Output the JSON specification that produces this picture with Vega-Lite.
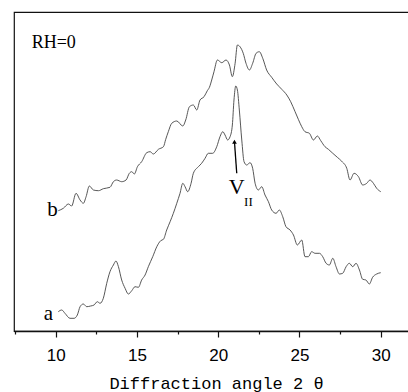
{
  "$schema": "https://vega.github.io/schema/vega-lite/v6.json",
  "width": 395,
  "height": 319,
  "autosize": {"type": "none"},
  "padding": {"left": 14, "top": 12, "right": 0, "bottom": 61},
  "background": "white",
  "config": {
    "view": {"stroke": "#111", "strokeWidth": 1.2},
    "axis": {"domainColor": "#111", "tickColor": "#111", "labelColor": "#000", "titleColor": "#000"}
  },
  "datasets": {
    "curves": [
      {"s":"b","x":10.16,"y":120.3},{"s":"b","x":10.47,"y":122.7},{"s":"b","x":10.78,"y":127},{"s":"b","x":10.98,"y":125},{"s":"b","x":11.25,"y":137.7},{"s":"b","x":11.5,"y":131},{"s":"b","x":11.7,"y":127.7},{"s":"b","x":11.87,"y":134.3},{"s":"b","x":12.07,"y":145},{"s":"b","x":12.32,"y":141},{"s":"b","x":12.63,"y":140.3},{"s":"b","x":12.93,"y":142.3},{"s":"b","x":13.34,"y":143.7},{"s":"b","x":13.55,"y":149.3},{"s":"b","x":13.75,"y":151},{"s":"b","x":14.06,"y":149.3},{"s":"b","x":14.33,"y":151},{"s":"b","x":14.53,"y":157.7},{"s":"b","x":14.68,"y":159.3},{"s":"b","x":14.84,"y":157},{"s":"b","x":15.03,"y":164.3},{"s":"b","x":15.29,"y":169.3},{"s":"b","x":15.6,"y":178.3},{"s":"b","x":15.81,"y":179.3},{"s":"b","x":16.01,"y":177},{"s":"b","x":16.32,"y":181.7},{"s":"b","x":16.63,"y":184.3},{"s":"b","x":16.77,"y":191.7},{"s":"b","x":16.93,"y":199.3},{"s":"b","x":17.14,"y":207.7},{"s":"b","x":17.45,"y":210},{"s":"b","x":17.82,"y":205},{"s":"b","x":18.0,"y":211},{"s":"b","x":18.23,"y":224.3},{"s":"b","x":18.47,"y":226},{"s":"b","x":18.68,"y":221},{"s":"b","x":18.88,"y":231},{"s":"b","x":19.13,"y":234.3},{"s":"b","x":19.33,"y":240.3},{"s":"b","x":19.46,"y":243.7},{"s":"b","x":19.6,"y":251},{"s":"b","x":19.74,"y":259.3},{"s":"b","x":19.95,"y":271},{"s":"b","x":20.22,"y":268.3},{"s":"b","x":20.48,"y":271},{"s":"b","x":20.69,"y":266},{"s":"b","x":20.87,"y":254.3},{"s":"b","x":21.04,"y":267.7},{"s":"b","x":21.18,"y":286},{"s":"b","x":21.34,"y":284.3},{"s":"b","x":21.54,"y":277.7},{"s":"b","x":21.71,"y":267.7},{"s":"b","x":21.92,"y":261},{"s":"b","x":22.12,"y":267.7},{"s":"b","x":22.33,"y":277.7},{"s":"b","x":22.53,"y":279.3},{"s":"b","x":22.74,"y":272.7},{"s":"b","x":22.98,"y":261},{"s":"b","x":23.29,"y":253.7},{"s":"b","x":23.6,"y":247},{"s":"b","x":23.91,"y":241.7},{"s":"b","x":24.22,"y":236},{"s":"b","x":24.46,"y":229.3},{"s":"b","x":24.73,"y":219.3},{"s":"b","x":24.93,"y":211.7},{"s":"b","x":25.14,"y":204.3},{"s":"b","x":25.34,"y":199.3},{"s":"b","x":25.61,"y":197.7},{"s":"b","x":25.86,"y":191},{"s":"b","x":26.1,"y":195},{"s":"b","x":26.31,"y":190.3},{"s":"b","x":26.57,"y":184.3},{"s":"b","x":26.78,"y":181.7},{"s":"b","x":27.05,"y":177.7},{"s":"b","x":27.33,"y":173.7},{"s":"b","x":27.6,"y":169.7},{"s":"b","x":27.91,"y":162.7},{"s":"b","x":28.11,"y":151},{"s":"b","x":28.36,"y":157.7},{"s":"b","x":28.63,"y":154.3},{"s":"b","x":28.89,"y":146},{"s":"b","x":29.14,"y":147.7},{"s":"b","x":29.34,"y":151},{"s":"b","x":29.55,"y":147.7},{"s":"b","x":29.75,"y":142.7},{"s":"b","x":30.0,"y":139.3},
      {"s":"a","x":10.16,"y":19.3},{"s":"a","x":10.37,"y":21},{"s":"a","x":10.57,"y":17.7},{"s":"a","x":10.88,"y":12.7},{"s":"a","x":11.13,"y":12.7},{"s":"a","x":11.33,"y":16},{"s":"a","x":11.5,"y":24.3},{"s":"a","x":11.7,"y":27},{"s":"a","x":11.91,"y":24.3},{"s":"a","x":12.15,"y":25},{"s":"a","x":12.36,"y":26},{"s":"a","x":12.56,"y":29.3},{"s":"a","x":12.73,"y":27.7},{"s":"a","x":12.93,"y":32.7},{"s":"a","x":13.14,"y":47.7},{"s":"a","x":13.34,"y":59.3},{"s":"a","x":13.55,"y":66},{"s":"a","x":13.71,"y":70},{"s":"a","x":13.86,"y":64.3},{"s":"a","x":14.06,"y":51},{"s":"a","x":14.27,"y":42.7},{"s":"a","x":14.47,"y":37},{"s":"a","x":14.68,"y":40.3},{"s":"a","x":14.88,"y":44.3},{"s":"a","x":15.09,"y":43.7},{"s":"a","x":15.29,"y":51},{"s":"a","x":15.5,"y":56},{"s":"a","x":15.7,"y":64.3},{"s":"a","x":15.97,"y":74.3},{"s":"a","x":16.22,"y":84.3},{"s":"a","x":16.46,"y":90.3},{"s":"a","x":16.63,"y":91.7},{"s":"a","x":16.83,"y":101},{"s":"a","x":17.04,"y":109.3},{"s":"a","x":17.24,"y":117.7},{"s":"a","x":17.45,"y":127.7},{"s":"a","x":17.65,"y":137.7},{"s":"a","x":17.82,"y":147.7},{"s":"a","x":17.96,"y":144.3},{"s":"a","x":18.12,"y":139.3},{"s":"a","x":18.33,"y":147.7},{"s":"a","x":18.47,"y":157.7},{"s":"a","x":18.78,"y":164.3},{"s":"a","x":18.98,"y":167.7},{"s":"a","x":19.19,"y":172.7},{"s":"a","x":19.39,"y":177.7},{"s":"a","x":19.66,"y":177.7},{"s":"a","x":19.91,"y":184.3},{"s":"a","x":20.11,"y":194.3},{"s":"a","x":20.28,"y":199.3},{"s":"a","x":20.42,"y":196},{"s":"a","x":20.58,"y":191},{"s":"a","x":20.73,"y":194.3},{"s":"a","x":20.87,"y":206},{"s":"a","x":20.97,"y":231},{"s":"a","x":21.08,"y":245},{"s":"a","x":21.18,"y":241},{"s":"a","x":21.3,"y":221},{"s":"a","x":21.45,"y":191},{"s":"a","x":21.59,"y":169.3},{"s":"a","x":21.75,"y":166},{"s":"a","x":21.96,"y":168.3},{"s":"a","x":22.12,"y":162.7},{"s":"a","x":22.27,"y":147.7},{"s":"a","x":22.47,"y":141},{"s":"a","x":22.68,"y":144.3},{"s":"a","x":22.88,"y":136},{"s":"a","x":23.09,"y":129.3},{"s":"a","x":23.29,"y":121},{"s":"a","x":23.56,"y":117.7},{"s":"a","x":23.76,"y":121},{"s":"a","x":23.97,"y":114.3},{"s":"a","x":24.17,"y":104.3},{"s":"a","x":24.42,"y":101},{"s":"a","x":24.63,"y":96},{"s":"a","x":24.87,"y":86},{"s":"a","x":25.14,"y":91},{"s":"a","x":25.34,"y":74.3},{"s":"a","x":25.55,"y":74.3},{"s":"a","x":25.75,"y":79.3},{"s":"a","x":25.96,"y":77.7},{"s":"a","x":26.23,"y":77.7},{"s":"a","x":26.43,"y":74.3},{"s":"a","x":26.64,"y":67.7},{"s":"a","x":26.84,"y":66},{"s":"a","x":27.05,"y":72.7},{"s":"a","x":27.25,"y":64.3},{"s":"a","x":27.46,"y":57},{"s":"a","x":27.66,"y":57.7},{"s":"a","x":27.87,"y":64.3},{"s":"a","x":28.07,"y":67.7},{"s":"a","x":28.28,"y":64.3},{"s":"a","x":28.48,"y":67.7},{"s":"a","x":28.69,"y":61},{"s":"a","x":28.89,"y":51.7},{"s":"a","x":29.09,"y":51},{"s":"a","x":29.3,"y":47},{"s":"a","x":29.5,"y":53.7},{"s":"a","x":29.75,"y":57},{"s":"a","x":30.0,"y":58.3}
    ],
    "labels": [
      {"k":"big","x":9.81,"y":121,"text":"b"},
      {"k":"big","x":9.55,"y":17,"text":"a"},
      {"k":"rh","x":8.52,"y":287.7,"text":"RH=0"},
      {"k":"v","x":21.14,"y":144.3,"text":"V"},
      {"k":"sub","x":21.86,"y":129.3,"text":"II"}
    ],
    "arrow": [
      {"x":21.0,"y":189.3,"x2":21.14,"y2":157.7}
    ]
  },
  "layer": [
    {
      "data": {"name": "curves"},
      "mark": {"type": "line", "color": "#444", "strokeWidth": 0.9, "interpolate": "monotone"},
      "encoding": {
        "x": {"field": "x", "type": "quantitative",
              "scale": {"domain": [7.434, 31.74], "nice": false, "zero": false},
              "axis": {"orient": "bottom", "values": [7.5, 10, 12.5, 15, 17.5, 20, 22.5, 25, 27.5, 30],
                       "tickSize": {"condition": {"test": "datum.value % 5 === 0", "value": 6}, "value": 3},
                       "labelExpr": "datum.value % 5 === 0 ? datum.label : ''",
                       "tickWidth": 1.2, "domainWidth": 1.4,
                       "labelFont": "Liberation Sans", "labelFontSize": 17, "labelPadding": 10, "grid": false,
                       "title": "Diffraction angle 2 θ", "titleFont": "Liberation Mono", "titleFontSize": 17, "titleFontWeight": "normal",
                       "titleX": 202, "titleY": 57, "titleBaseline": "alphabetic"}},
        "y": {"field": "y", "type": "quantitative", "scale": {"domain": [0, 319], "nice": false, "zero": false}, "axis": null},
        "detail": {"field": "s"}
      }
    },
    {
      "data": {"name": "arrow"},
      "mark": {"type": "rule", "color": "#000", "strokeWidth": 1.3},
      "encoding": {
        "x": {"field": "x", "type": "quantitative"},
        "y": {"field": "y", "type": "quantitative"},
        "x2": {"field": "x2"},
        "y2": {"field": "y2"}
      }
    },
    {
      "data": {"name": "arrow"},
      "mark": {"type": "point", "shape": "triangle-up", "filled": true, "color": "#000", "size": 22, "opacity": 1},
      "encoding": {
        "x": {"field": "x", "type": "quantitative"},
        "y": {"field": "y", "type": "quantitative"}
      }
    },
    {
      "data": {"name": "labels"},
      "transform": [{"filter": "datum.k === 'big'"}],
      "mark": {"type": "text", "font": "Liberation Serif", "fontSize": 21, "align": "center", "baseline": "middle", "color": "#000"},
      "encoding": {"x": {"field": "x", "type": "quantitative"}, "y": {"field": "y", "type": "quantitative"}, "text": {"field": "text"}}
    },
    {
      "data": {"name": "labels"},
      "transform": [{"filter": "datum.k === 'rh'"}],
      "mark": {"type": "text", "font": "Liberation Serif", "fontSize": 18, "align": "left", "baseline": "middle", "color": "#000"},
      "encoding": {"x": {"field": "x", "type": "quantitative"}, "y": {"field": "y", "type": "quantitative"}, "text": {"field": "text"}}
    },
    {
      "data": {"name": "labels"},
      "transform": [{"filter": "datum.k === 'v'"}],
      "mark": {"type": "text", "font": "Liberation Serif", "fontSize": 22, "align": "center", "baseline": "middle", "color": "#000"},
      "encoding": {"x": {"field": "x", "type": "quantitative"}, "y": {"field": "y", "type": "quantitative"}, "text": {"field": "text"}}
    },
    {
      "data": {"name": "labels"},
      "transform": [{"filter": "datum.k === 'sub'"}],
      "mark": {"type": "text", "font": "Liberation Serif", "fontSize": 13, "align": "center", "baseline": "middle", "color": "#000"},
      "encoding": {"x": {"field": "x", "type": "quantitative"}, "y": {"field": "y", "type": "quantitative"}, "text": {"field": "text"}}
    }
  ]
}
